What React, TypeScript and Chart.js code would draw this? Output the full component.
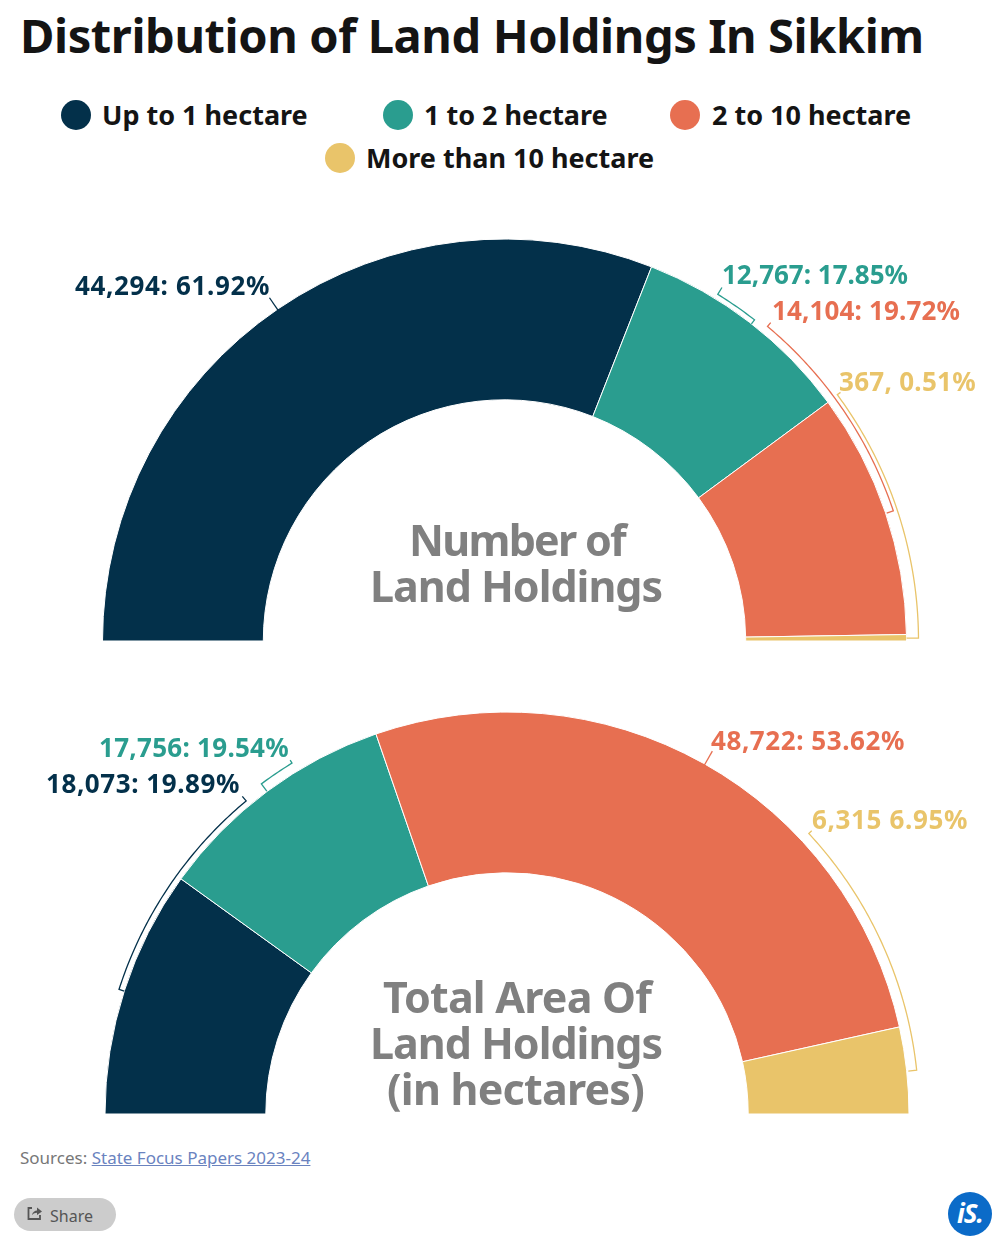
import React, { useEffect, useRef } from "react";
import { Chart, registerables } from "chart.js";

Chart.register(...registerables);

const titleText = "Distribution of Land Holdings In Sikkim";
const categories = ["Up to 1 hectare", "1 to 2 hectare", "2 to 10 hectare", "More than 10 hectare"];
const colors = ["#03304A", "#2A9D8F", "#E76F51", "#E9C46A"];
const holdingsValues = [44294, 12767, 14104, 367];
const holdingsLabels = ["44,294: 61.92%", "12,767: 17.85%", "14,104: 19.72%", "367, 0.51%"];
const areaValues = [18073, 17756, 48722, 6315];
const areaLabels = ["18,073: 19.89%", "17,756: 19.54%", "48,722: 53.62%", "6,315 6.95%"];
const holdingsCentre = ["Number of", "Land Holdings"];
const areaCentre = ["Total Area Of", "Land Holdings", "(in hectares)"];

const FONT = '"Noto Sans"';

// layout tables: text spans as [left, middleY, right], and callout brackets
// bracket: [startDeg, endDeg, arcR, tipR, endR] degrees clockwise from the top
const holdingsLayout = {
  cx: 504.5, base: 641, top: 200, height: 450, R: 402,
  labels: [[75, 288, 270], [722, 277, 908], [772, 313, 960], [839, 384, 976]],
  brackets: [[-34.4, -34.4, 400, 416, 400], [31.6, 37.9, 407, 415, 402], [39.9, 71.5, 410, 415, 403], [53.5, 89.6, 414, 418, 402]],
  centre: [[409, 544, 625], [370, 590, 662]],
};
const areaLayout = {
  cx: 507, base: 1114, top: 690, height: 435, R: 402,
  labels: [[46, 786, 240], [99, 750, 289], [711, 743, 905], [812, 822, 968]],
  brackets: [[-39.8, -72.2, 407.5, 413.5, 402], [-31.5, -36.65, 411.5, 415, 402.4], [29.5, 29.5, 399, 417, 399], [47.1, 83.9, 412, 416, 403.6]],
  centre: [[383, 1001, 651], [370, 1047, 662], [387, 1093, 644]],
};

function fitText(ctx: any, text: string, span: number[], top: number) {
  ctx.letterSpacing = "0px";
  const natural = ctx.measureText(text).width;
  ctx.letterSpacing = `${(span[2] - span[0] - natural) / text.length}px`;
  ctx.fillText(text, span[0], span[1] - top);
}

function Ring({ values, labels, centre, layout, name }: any) {
  const ref = useRef<HTMLCanvasElement>(null);
  useEffect(() => {
    const overlay = {
      id: "overlay",
      afterDraw(chart: any) {
        const ctx = chart.ctx;
        const arc = chart.getDatasetMeta(0).data[0];
        const { x: cx, y: cy } = arc.getProps(["x", "y"], true);
        const pt = (deg: number, r: number) => {
          const a = (deg * Math.PI) / 180;
          return [cx + r * Math.sin(a), cy - r * Math.cos(a)];
        };
        ctx.save();
        layout.brackets.forEach((b: number[], i: number) => {
          const [s, e, r, tip, end] = b;
          ctx.strokeStyle = colors[i];
          ctx.lineWidth = 1.3;
          ctx.beginPath();
          const t = pt(s, tip);
          ctx.moveTo(t[0], t[1]);
          const n = Math.max(2, Math.ceil(Math.abs(e - s) * 2));
          for (let k = 0; k <= n; k++) {
            const p = pt(s + ((e - s) * k) / n, r);
            ctx.lineTo(p[0], p[1]);
          }
          const f = pt(e, end);
          ctx.lineTo(f[0], f[1]);
          ctx.stroke();
        });
        ctx.textBaseline = "middle";
        ctx.textAlign = "left";
        ctx.font = `700 26px ${FONT}`;
        labels.forEach((l: string, i: number) => {
          ctx.fillStyle = colors[i];
          fitText(ctx, l, layout.labels[i], layout.top);
        });
        ctx.font = `700 43px ${FONT}`;
        ctx.fillStyle = "#808080";
        centre.forEach((l: string, i: number) => {
          fitText(ctx, l, layout.centre[i], layout.top);
        });
        ctx.restore();
      },
    };
    const chart = new Chart(ref.current!, {
      type: "doughnut",
      data: {
        labels: categories,
        datasets: [{ label: name, data: values, backgroundColor: colors, borderColor: "#ffffff", borderWidth: 1 }],
      },
      options: {
        animation: false,
        responsive: false,
        events: [],
        rotation: -90,
        circumference: 180,
        cutout: "60%",
        radius: layout.R,
        layout: {
          padding: {
            left: layout.cx - layout.R,
            right: 1000 - layout.cx - layout.R,
            top: layout.base - layout.R - layout.top,
            bottom: layout.top + layout.height - layout.base,
          },
        },
        plugins: { legend: { display: false }, title: { display: false }, tooltip: { enabled: false } },
      },
      plugins: [overlay],
    } as any);
    return () => chart.destroy();
  }, []);
  return (
    <canvas
      ref={ref}
      width={1000}
      height={layout.height}
      style={{ position: "absolute", left: 0, top: layout.top, width: 1000, height: layout.height }}
    />
  );
}

const legendPlace = [
  { dot: 76, text: 102, y: 115 },
  { dot: 398, text: 424, y: 115 },
  { dot: 685, text: 712, y: 115 },
  { dot: 340, text: 366, y: 158 },
];

export default function App() {
  const abs: React.CSSProperties = { position: "absolute", whiteSpace: "nowrap", lineHeight: 1 };
  return (
    <div style={{ position: "absolute", left: 0, top: 0, width: 1000, height: 1251, overflow: "hidden", background: "#fff", fontFamily: FONT }}>
      <div style={{ ...abs, left: 20, top: 12, fontSize: 47, fontWeight: 700, color: "#141414", letterSpacing: "-0.4px" }}>{titleText}</div>
      {categories.map((c, i) => (
        <React.Fragment key={c}>
          <div style={{ position: "absolute", left: legendPlace[i].dot - 15, top: legendPlace[i].y - 15, width: 30, height: 30, borderRadius: "50%", background: colors[i] }} />
          <div style={{ ...abs, left: legendPlace[i].text, top: legendPlace[i].y - 14, fontSize: 27, fontWeight: 700, color: "#141414" }}>{c}</div>
        </React.Fragment>
      ))}
      <Ring name="Number of Land Holdings" values={holdingsValues} labels={holdingsLabels} centre={holdingsCentre} layout={holdingsLayout} />
      <Ring name="Total Area Of Land Holdings" values={areaValues} labels={areaLabels} centre={areaCentre} layout={areaLayout} />
      <div style={{ ...abs, left: 20, top: 1149, fontSize: 17, color: "#777" }}>
        Sources: <span style={{ color: "#6A83BF", textDecoration: "underline" }}>State Focus Papers 2023-24</span>
      </div>
      <div style={{ position: "absolute", left: 14, top: 1198, width: 102, height: 33, borderRadius: 17, background: "#CCCCCC" }} />
      <svg style={{ position: "absolute", left: 27, top: 1206 }} width="16" height="16" viewBox="0 0 16 16">
        <path d="M5 2H1.5V13H13V9" fill="none" stroke="#555" strokeWidth="1.8" />
        <path d="M5 9C5.5 6 8 4.5 10 4.5V1.5L15 5.5L10 9V6.8C8 6.8 6.5 7.5 5 9Z" fill="#555" />
      </svg>
      <div style={{ ...abs, left: 50, top: 1208, fontSize: 16, color: "#555" }}>Share</div>
      <div style={{ position: "absolute", left: 948, top: 1192, width: 44, height: 44, borderRadius: "50%", background: "#0B6BC8", color: "#fff", fontSize: 26, fontWeight: 700, fontStyle: "italic", textAlign: "center", lineHeight: "42px", letterSpacing: "-1px" }}>iS.</div>
    </div>
  );
}
